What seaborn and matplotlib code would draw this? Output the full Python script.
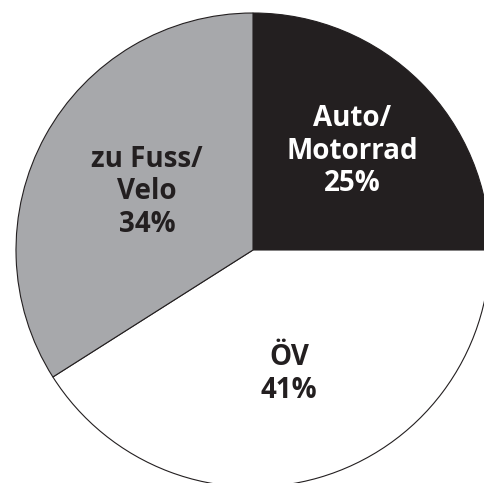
import numpy as np
import matplotlib
matplotlib.use("Agg")
import matplotlib.pyplot as plt
import seaborn as sns

categories = ["Auto/\nMotorrad", "ÖV", "zu Fuss/\nVelo"]
shares = [25, 41, 34]
colors = ["#231f20", "#ffffff", "#a7a8ab"]
text_colors = ["#ffffff", "#231f20", "#231f20"]
label_dist = [0.59, 0.545, 0.51]

sns.set_theme(style="white")
plt.rcParams["font.family"] = ["Open Sans", "DejaVu Sans"]

fig = plt.figure(figsize=(4.84, 4.83), dpi=100)
ax = fig.add_axes([0, 0, 1, 1])

cx, cy, r = 253, 233, 237
wedges, _ = ax.pie(
    shares, colors=colors, startangle=90, counterclock=False,
    center=(cx, cy), radius=r, frame=True,
    wedgeprops=dict(edgecolor="#231f20", linewidth=0.8),
)
ax.set_xlim(0, 484)
ax.set_ylim(0, 483)
ax.axis("off")

for w, cat, val, tc, d in zip(wedges, categories, shares, text_colors, label_dist):
    ang = np.deg2rad((w.theta1 + w.theta2) / 2)
    x = cx + r * d * np.cos(ang)
    y = cy + r * d * np.sin(ang)
    ax.text(x, y, f"{cat}\n{val}%", ha="center", va="center", color=tc,
            fontsize=20, fontweight="bold", linespacing=1.15)

fig.savefig("out.png", dpi=100)
